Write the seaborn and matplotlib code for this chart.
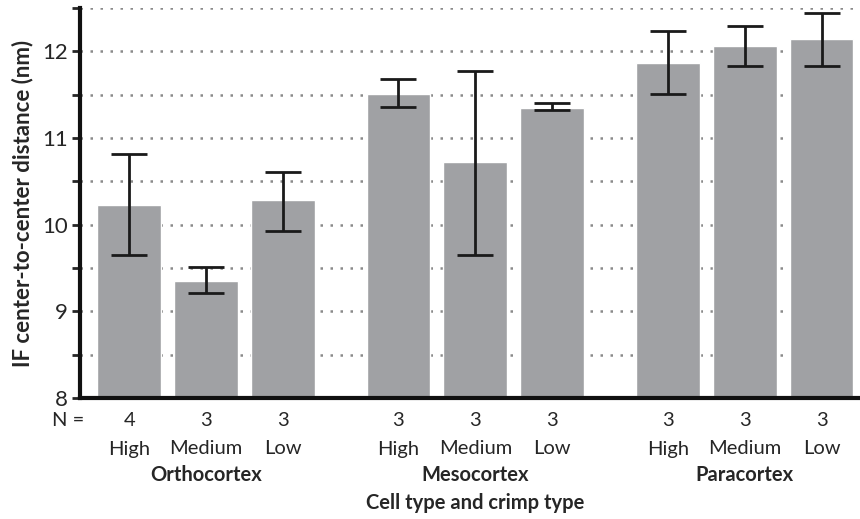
import matplotlib
matplotlib.use("Agg")
import matplotlib.pyplot as plt
import seaborn as sns
import numpy as np

# values
cell_types = ["Orthocortex", "Mesocortex", "Paracortex"]
crimp_types = ["High", "Medium", "Low"]
n_samples = [4, 3, 3, 3, 3, 3, 3, 3, 3]
means = [10.23, 9.35, 10.28, 11.51, 10.72, 11.35, 11.87, 12.06, 12.14]
err_low = [9.65, 9.21, 9.93, 11.36, 9.65, 11.32, 11.51, 11.83, 11.83]
err_high = [10.81, 9.51, 10.61, 11.68, 11.77, 11.40, 12.24, 12.29, 12.44]

sns.set_style("white")
plt.rcParams["font.family"] = ["Lato", "DejaVu Sans"]

# bar positions: 3 bars per group, a wider gap between groups
x = [g * 3.5 + i for g in range(len(cell_types)) for i in range(len(crimp_types))]
labels = [c for _ in cell_types for c in crimp_types]

fig = plt.figure(figsize=(8.6, 5.19), dpi=100)
ax = fig.add_axes([80 / 860, 1 - 398 / 519, 1 - 80 / 860, 390 / 519])

sns.barplot(x=x, y=means, native_scale=True, width=0.83, color="#a0a1a4",
            saturation=1, errorbar=None, ax=ax, zorder=2)
yerr = [np.array(means) - np.array(err_low), np.array(err_high) - np.array(means)]
ax.errorbar(x, means, yerr=yerr, fmt="none", ecolor="#1a1a1a", elinewidth=2,
            capsize=13, capthick=2, zorder=3)

ax.set_xlim(-0.64, 9.5)
ax.set_ylim(8, 12.5)
ax.set_yticks([8, 9, 10, 11, 12])
ax.set_yticks(np.arange(8.5, 12.6, 1.0), minor=True)
ax.grid(True, axis="y", which="both", linestyle=(0, (1, 3)), color="#8a8a8a",
        linewidth=1.8, zorder=0)
ax.set_axisbelow(True)
ax.tick_params(axis="y", which="both", direction="out", length=6, width=2,
               labelsize=16, left=True, pad=3)
ax.set_xticks([])
for s in ["top", "right"]:
    ax.spines[s].set_visible(False)
for s in ["left", "bottom"]:
    ax.spines[s].set_linewidth(3)
    ax.spines[s].set_color("#111111")

ax.set_ylabel("IF center-to-center distance (nm)", fontsize=16,
              fontweight="bold", labelpad=6)

fs = 14.5
tr = ("data", "axes fraction")
ax.annotate("N =", xy=(-0.58, 0), xycoords=tr, xytext=(0, -22),
            textcoords="offset pixels", ha="right", va="center", fontsize=fs)
for xi, n, lab in zip(x, n_samples, labels):
    ax.annotate(str(n), xy=(xi, 0), xycoords=tr, xytext=(0, -22),
                textcoords="offset pixels", ha="center", va="center", fontsize=fs)
    ax.annotate(lab, xy=(xi, 0), xycoords=tr, xytext=(0, -51),
                textcoords="offset pixels", ha="center", va="center", fontsize=fs)
for g, name in enumerate(cell_types):
    ax.annotate(name, xy=(x[g * 3 + 1], 0), xycoords=tr, xytext=(0, -77),
                textcoords="offset pixels", ha="center", va="center",
                fontsize=fs, fontweight="bold")
ax.annotate("Cell type and crimp type", xy=(x[4], 0), xycoords=tr,
            xytext=(0, -105), textcoords="offset pixels", ha="center",
            va="center", fontsize=fs, fontweight="bold")

fig.savefig("out.png", dpi=100)
